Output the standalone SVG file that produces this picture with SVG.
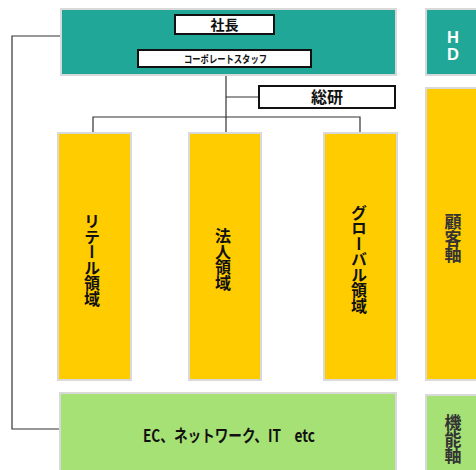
<svg xmlns="http://www.w3.org/2000/svg" width="476" height="470" viewBox="0 0 476 470">
<style>
.bg{fill:#FFFFFF}
.teal{fill:#21A797;stroke:#D9D9D9;stroke-width:2}
.yel{fill:#FFCC00;stroke:#D9D9D9;stroke-width:2}
.grn{fill:#A6E175;stroke:#D9D9D9;stroke-width:2}
.wbox{fill:#FFFFFF;stroke:#111111;stroke-width:2}
.ln{fill:none;stroke:#333333;stroke-width:1.2}
.jp{font-family:"Noto Sans CJK JP","Liberation Sans",sans-serif;font-weight:bold;fill:#111111}
.vt{writing-mode:vertical-rl;text-orientation:upright;font-size:16px;letter-spacing:-0.5px}
.ax{fill:#333333;font-size:17px;letter-spacing:-0.3px}
</style>
<rect class="bg" x="0" y="0" width="476" height="470"/>
<g id="connectors">
<polyline class="ln" points="61,36 12,36 12,429 61,429"/>
<line class="ln" x1="226" y1="75" x2="226" y2="117"/>
<line class="ln" x1="226" y1="97" x2="259" y2="97"/>
<polyline class="ln" points="93,133 93,117 360,117 360,133"/>
<line class="ln" x1="226" y1="117" x2="226" y2="133"/>
<line x1="226" y1="34" x2="226" y2="50" stroke="#111111" stroke-width="2"/>
</g>
<g id="hd">
<rect class="teal" x="61" y="9" width="335" height="66"/>
</g>
<g id="president">
<rect class="wbox" x="175" y="15" width="99" height="19"/>
<text class="jp" x="224.5" y="29.5" font-size="14" text-anchor="middle">社長</text>
</g>
<g id="corporate-staff">
<rect class="wbox" x="138" y="50" width="173" height="17"/>
<text class="jp" x="225.5" y="62.5" font-size="10.5" text-anchor="middle" textLength="83" lengthAdjust="spacingAndGlyphs">コーポレートスタッフ</text>
</g>
<g id="souken">
<rect class="wbox" x="259" y="86" width="136" height="22"/>
<text class="jp" x="327" y="103" font-size="16" text-anchor="middle">総研</text>
</g>
<g id="retail">
<rect class="yel" x="58" y="133" width="73" height="247"/>
<text class="jp vt" x="92" y="259.5" text-anchor="middle">リテール領域</text>
</g>
<g id="corporate">
<rect class="yel" x="189" y="133" width="72" height="247"/>
<text class="jp vt" x="223" y="259" text-anchor="middle">法人領域</text>
</g>
<g id="global">
<rect class="yel" x="324" y="133" width="73" height="247"/>
<text class="jp vt" x="359" y="259" text-anchor="middle">グローバル領域</text>
</g>
<g id="function">
<rect class="grn" x="60" y="393" width="336" height="90"/>
<text class="jp" x="229" y="442" font-size="16.5" text-anchor="middle" textLength="172" lengthAdjust="spacingAndGlyphs" xml:space="preserve">EC、ネットワーク、IT　etc</text>
</g>
<g id="axis-hd">
<rect class="teal" x="426" y="9" width="60" height="66"/>
<text x="453" y="43" font-family="Liberation Sans, Arial, sans-serif" font-weight="bold" font-size="16.5" fill="#FFFFFF" text-anchor="middle">H</text>
<text x="453" y="60" font-family="Liberation Sans, Arial, sans-serif" font-weight="bold" font-size="16.5" fill="#FFFFFF" text-anchor="middle">D</text>
</g>
<g id="axis-customer">
<rect class="yel" x="426" y="88" width="60" height="292"/>
<text class="jp vt ax" x="453" y="238" text-anchor="middle">顧客軸</text>
</g>
<g id="axis-function">
<rect class="grn" x="426" y="395" width="60" height="90"/>
<text class="jp vt ax" x="453" y="439" text-anchor="middle">機能軸</text>
</g>
</svg>
